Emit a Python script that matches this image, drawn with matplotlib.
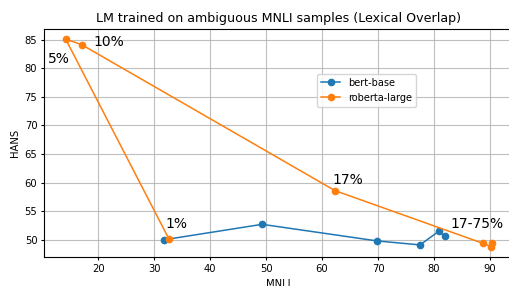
import matplotlib.pyplot as plt
import numpy as np

# bert-base (MNLI acc, HANS acc)
bert_mnli = [31.8, 49.3, 69.8, 77.5, 80.8, 82.0]
bert_hans = [50.0, 52.7, 49.8, 49.1, 51.45, 50.6]

# roberta-large
roberta_mnli = [32.7, 14.2, 17.1, 62.3, 88.8, 90.1, 90.3]
roberta_hans = [50.05, 85.1, 84.1, 58.6, 49.35, 48.8, 49.35]

labels = ['1%', '5%', '10%', '17%', '17-75%']
label_xy = [(32.1, 52.05), (11.1, 80.85), (19.1, 83.8), (61.8, 59.8), (83.0, 52.05)]

fig = plt.figure(figsize=(5.1, 2.86), dpi=100)
# the reference is cropped: the axes runs just past the right edge
ax = fig.add_axes([0.0869, 0.1014, 0.919, 0.7983])

ax.plot(bert_mnli, bert_hans, marker='o', linewidth=1.1, markersize=4.5, label='bert-base')
ax.plot(roberta_mnli, roberta_hans, marker='o', linewidth=1.1, markersize=4.5, label='roberta-large')

for txt, (x, y) in zip(labels, label_xy):
    ax.text(x, y, txt, fontsize=10)

ax.set_title('LM trained on ambiguous MNLI samples (Lexical Overlap)', fontsize=9.05, pad=4.5)
ax.set_xlabel('MNLI', fontsize=7.2, labelpad=4)
ax.set_ylabel('HANS', fontsize=7.2, labelpad=3)
ax.tick_params(labelsize=7.2, length=2.5, pad=2.5)
ax.grid(True, alpha=0.8)
ax.legend(loc='upper left', bbox_to_anchor=(317 / 510, 1 - 74 / 286), bbox_transform=fig.transFigure,
          borderaxespad=0, fontsize=7.0)

plt.savefig('out.png', dpi=100)
